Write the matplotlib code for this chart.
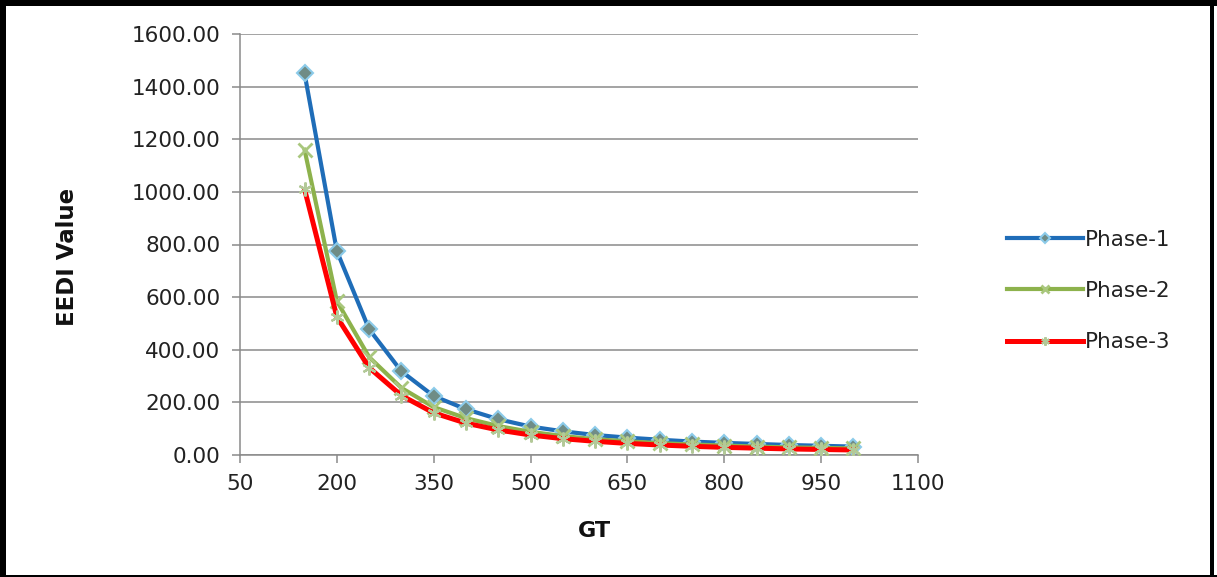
import matplotlib.pyplot as plt
from matplotlib.lines import Line2D

# gross tonnage of each ship size
gt = [150, 200, 250, 300, 350, 400, 450, 500, 550, 600,
      650, 700, 750, 800, 850, 900, 950, 1000]

phase1 = [1450, 775, 478, 318, 224, 174, 136, 108, 90, 76,
          66, 58, 51, 46, 42, 38, 35, 32]
phase2 = [1160, 585, 372, 255, 182, 140, 110, 88, 72, 60,
          52, 45, 40, 36, 32, 29, 27, 25]
phase3 = [1010, 525, 332, 226, 160, 121, 95, 76, 62, 52,
          44, 38, 33, 29, 26, 23, 21, 19]

x_ticks = [50, 200, 350, 500, 650, 800, 950, 1100]
y_ticks = [0, 200, 400, 600, 800, 1000, 1200, 1400, 1600]

W, H = 1217, 577
fig = plt.figure(figsize=(W / 100, H / 100), dpi=100)
ax = fig.add_axes([240 / W, (H - 455) / H, (918 - 240) / W, (455 - 34) / H])

ax.plot(gt, phase1, color="#1F6DB8", lw=3.0, marker="D", ms=8,
        mfc="#6F8C86", mec="#8CCBEA", mew=1.5, label="Phase-1", zorder=3)
ax.plot(gt, phase2, color="#8DB24C", lw=3.0, marker="x", ms=10,
        mec="#A9C77D", mew=2.0, label="Phase-2", zorder=4)
ax.plot(gt, phase3, color="#FF0000", lw=3.6, marker=(6, 2, 0), ms=10,
        mec="#B3C998", mew=1.6, label="Phase-3", zorder=5)

ax.set_xlim(50, 1100)
ax.set_ylim(0, 1600)
ax.set_xticks(x_ticks)
ax.set_yticks(y_ticks)
ax.set_yticklabels([f"{v:.2f}" for v in y_ticks])

ax.grid(axis="y", color="#8A8A8A", lw=1.1)
ax.set_axisbelow(True)
for side in ("top", "right"):
    ax.spines[side].set_visible(False)
for side in ("left", "bottom"):
    ax.spines[side].set_color("#8A8A8A")
    ax.spines[side].set_linewidth(1.1)
ax.tick_params(axis="both", colors="#8A8A8A", length=6, width=1.1,
               labelcolor="#222222", labelsize=15.5, pad=8)

fig.text(594 / W, 1 - 531 / H, "GT", fontsize=16, fontweight="bold",
         ha="center", va="center", color="#111111")
fig.text(68 / W, 1 - 257 / H, "EEDI Value", fontsize=16.5, fontweight="bold",
         rotation=90, ha="center", va="center", color="#111111")

handles, labels = ax.get_legend_handles_labels()
fig.legend(handles, labels, loc="center left",
           bbox_to_anchor=(988 / W, 1 - 291 / H), frameon=False,
           fontsize=15.5, handlelength=3.5, handletextpad=0.1,
           labelspacing=1.45, markerscale=0.6, labelcolor="#222222")

# black frame round the whole picture
frame = [((3 / W, 3 / W), (0, 1), 6),
         ((0, 1), (1 - 3 / H, 1 - 3 / H), 6),
         ((1 - 5 / W, 1 - 5 / W), (0, 1), 4),
         ((0, 1), (1.5 / H, 1.5 / H), 3)]
for xs, ys, lw in frame:
    fig.add_artist(Line2D(xs, ys, transform=fig.transFigure,
                          color="black", lw=lw * 0.72))

fig.savefig("out.png", dpi=100, facecolor="white")
